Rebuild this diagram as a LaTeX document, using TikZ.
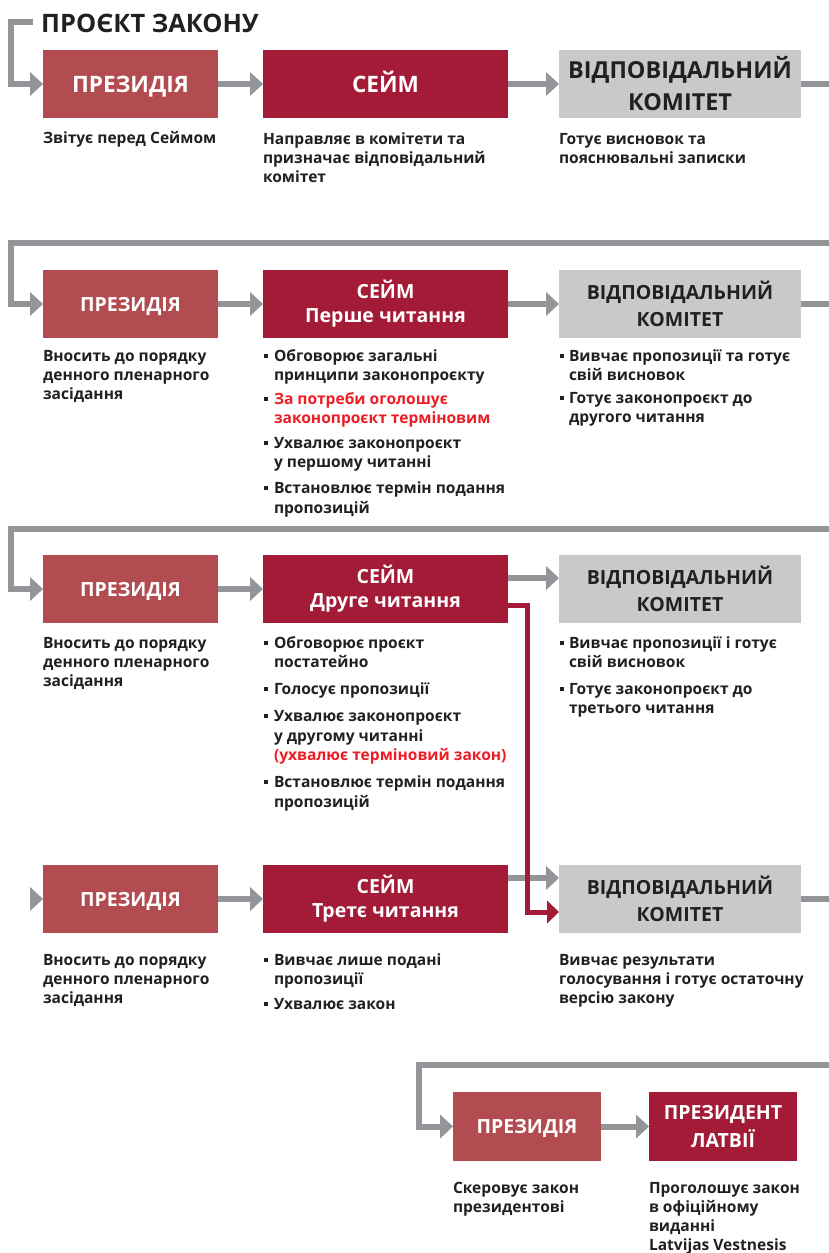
\documentclass[tikz,border=0pt]{standalone}
\usepackage{fontspec}
\setmainfont{Open Sans}
\usetikzlibrary{arrows.meta}

\definecolor{presred}{HTML}{B24C50}
\definecolor{seimred}{HTML}{A31B36}
\definecolor{comgrey}{HTML}{C7C9CA}
\definecolor{linegrey}{HTML}{939598}
\definecolor{darktext}{HTML}{231F20}
\definecolor{alertred}{HTML}{ED1C24}

% square bullet followed by a fixed gap
\newcommand\sqbul[1]{\makebox[#1][l]{\raisebox{3.5pt}{\rule{4pt}{4pt}}}}
\newcommand\alert[1]{\textcolor{alertred}{#1}}
% invisible strut fixing the height of a first line
\newcommand\firstline{\rule{0pt}{14pt}}

\begin{document}
\begin{tikzpicture}[x=1pt,y=-1pt,
  box/.style={rectangle, inner sep=0pt, outer sep=0pt, anchor=north west,
    minimum height=68pt, align=center, font=\bfseries},
  presbox/.style={box, fill=presred, text=white},
  seimbox/.style={box, fill=seimred, text=white},
  combox/.style={box, fill=comgrey, text=darktext},
  big/.style={font={\bfseries\fontsize{22.6}{32}\selectfont}},
  bigone/.style={big, text height=16pt, text depth=0pt},
  mid/.style={font={\bfseries\fontsize{19.5}{#1}\selectfont}},
  mid/.default=24,
  midone/.style={mid, text height=14pt, text depth=0pt},
  desc/.style={inner sep=0pt, outer sep=0pt, anchor=north west, yshift=14pt,
    align=left, text=darktext, font={\bfseries\fontsize{15.55}{19.3}\selectfont}},
  garrow/.style={draw=linegrey, line width=6pt,
    -{Triangle[length=13pt,width=24pt,line width=0pt]}},
  gline/.style={draw=linegrey, line width=6pt},
  rarrow/.style={draw=seimred, line width=5pt,
    -{Triangle[length=12pt,width=23pt,line width=0pt]}}
]
\useasboundingbox (0,0) rectangle (829,1253);

% title
\node[inner sep=0pt, anchor=base west, text=darktext,
  font={\bfseries\fontsize{25.4}{30}\selectfont}] (title) at (41,32) {ПРОЄКТ ЗАКОНУ};

% ---------- row 1 ----------
\node[presbox, bigone, minimum width=175pt] (p1) at (43,50) {ПРЕЗИДІЯ};
\node[seimbox, bigone, minimum width=245pt] (s1) at (263,50) {СЕЙМ};
\node[combox, big, font={\bfseries\fontsize{23.4}{32}\selectfont}, minimum width=242pt] (c1) at (559,50) {ВІДПОВІДАЛЬНИЙ\\КОМІТЕТ};

\node[desc] (p1t) at (43,143) {\firstline Звітує перед Сеймом};
\node[desc] (s1t) at (263,144) {\firstline Направляє в комітети та\\призначає відповідальний\\комітет};
\node[desc] (c1t) at (559,144) {\firstline Готує висновок та\\пояснювальні записки};

\coordinate (t1) at (33,22);
\coordinate (e1) at (829,84);
\draw[garrow] (t1) -| ([xshift=-32pt]p1.west) -- (p1.west);
\draw[garrow] (p1) -- (s1);
\draw[garrow] (s1) -- (c1);
\draw[gline] (c1.east) -- (e1);

% ---------- row 2 ----------
\node[presbox, midone, minimum width=175pt] (p2) at (43,270) {ПРЕЗИДІЯ};
\node[seimbox, mid, minimum width=245pt] (s2) at (263,270) {СЕЙМ\\Перше читання};
\node[combox, mid=27, minimum width=242pt] (c2) at (559,270) {ВІДПОВІДАЛЬНИЙ\\КОМІТЕТ};

\node[desc] (p2t) at (43,361) {\firstline Вносить до порядку\\денного пленарного\\засідання};
\node[desc] (s2t) at (264,361) {%
  \firstline\sqbul{10pt}Обговорює загальні\\\hspace*{10pt}принципи законопроєкту\\[5pt]
  \sqbul{10pt}\alert{За потреби оголошує}\\\hspace*{10pt}\alert{законопроєкт терміновим}\\[5pt]
  \sqbul{10pt}Ухвалює законопроєкт\\\hspace*{10pt}у першому читанні\\[7pt]
  \sqbul{10pt}Встановлює термін подання\\\hspace*{10pt}пропозицій};
\node[desc] (c2t) at (560,361) {%
  \firstline\sqbul{9pt}Вивчає пропозиції та готує\\\hspace*{9pt}свій висновок\\[4pt]
  \sqbul{9pt}Готує законопроєкт до\\\hspace*{9pt}другого читання};

\coordinate (r2) at (829,243);
\coordinate (e2) at (829,304);
\draw[garrow] (r2) -| ([xshift=-32pt]p2.west) -- (p2.west);
\draw[garrow] (p2) -- (s2);
\draw[garrow] (s2) -- (c2);
\draw[gline] (c2.east) -- (e2);

% ---------- row 3 ----------
\node[presbox, midone, minimum width=175pt] (p3) at (43,555) {ПРЕЗИДІЯ};
\node[seimbox, mid, minimum width=245pt] (s3) at (263,555) {СЕЙМ\\Друге читання};
\node[combox, mid=27, minimum width=242pt] (c3) at (559,555) {ВІДПОВІДАЛЬНИЙ\\КОМІТЕТ};

\node[desc] (p3t) at (43,648) {\firstline Вносить до порядку\\денного пленарного\\засідання};
\node[desc] (s3t) at (264,648) {%
  \firstline\sqbul{10pt}Обговорює проєкт\\\hspace*{10pt}постатейно\\[8pt]
  \sqbul{10pt}Голосує пропозиції\\[8pt]
  \sqbul{10pt}Ухвалює законопроєкт\\\hspace*{10pt}у другому читанні\\\hspace*{10pt}\alert{(ухвалює терміновий закон)}\\[8pt]
  \sqbul{10pt}Встановлює термін подання\\\hspace*{10pt}пропозицій};
\node[desc] (c3t) at (560,648) {%
  \firstline\sqbul{9pt}Вивчає пропозиції і готує\\\hspace*{9pt}свій висновок\\[8pt]
  \sqbul{9pt}Готує законопроєкт до\\\hspace*{9pt}третього читання};

\coordinate (r3) at (829,529);
\draw[garrow] (r3) -| ([xshift=-32pt]p3.west) -- (p3.west);
\draw[garrow] (p3) -- (s3);
\draw[garrow] ([yshift=11pt]s3.east) -- ([yshift=11pt]c3.west);

% ---------- row 4 ----------
\node[presbox, midone, minimum width=175pt] (p4) at (43,865) {ПРЕЗИДІЯ};
\node[seimbox, mid, minimum width=245pt] (s4) at (263,865) {СЕЙМ\\Третє читання};
\node[combox, mid=27, minimum width=242pt] (c4) at (559,865) {ВІДПОВІДАЛЬНИЙ\\КОМІТЕТ};

\node[desc] (p4t) at (43,965) {\firstline Вносить до порядку\\денного пленарного\\засідання};
\node[desc] (s4t) at (264,965) {%
  \firstline\sqbul{10pt}Вивчає лише подані\\\hspace*{10pt}пропозиції\\[6pt]
  \sqbul{10pt}Ухвалює закон};
\node[desc] (c4t) at (559,965) {\firstline Вивчає результати\\голосування і готує остаточну\\версію закону};

\coordinate (a4) at (30,899);
\coordinate (e4) at (829,899);
\draw[garrow] (a4) -- (p4.west);
\draw[garrow] (p4) -- (s4);
\draw[garrow] ([yshift=21pt]s4.east) -- ([yshift=21pt]c4.west);
\draw[gline] (c4.east) -- (e4);

% urgent bill: from the second reading straight to the committee
\draw[rarrow] ([yshift=-16pt]s3.east) -- ++(19,0) |- ([yshift=-13pt]c4.west);

% ---------- row 5 ----------
\node[presbox, midone, minimum width=148pt, minimum height=69pt] (p5) at (453,1092) {ПРЕЗИДІЯ};
\node[seimbox, mid=28, minimum width=148pt, minimum height=69pt] (pr5) at (649,1092) {ПРЕЗИДЕНТ\\ЛАТВІЇ};

\node[desc] (p5t) at (453,1193) {\firstline Скеровує закон\\президентові};
\node[desc] (pr5t) at (649,1193) {\firstline Проголошує закон\\в офіційному\\виданні\\Latvijas Vestnesis};

\coordinate (r5) at (829,1065);
\draw[garrow] (r5) -| ([xshift=-34pt]p5.west) -- (p5.west);
\draw[garrow] (p5) -- (pr5);

\end{tikzpicture}
\end{document}
